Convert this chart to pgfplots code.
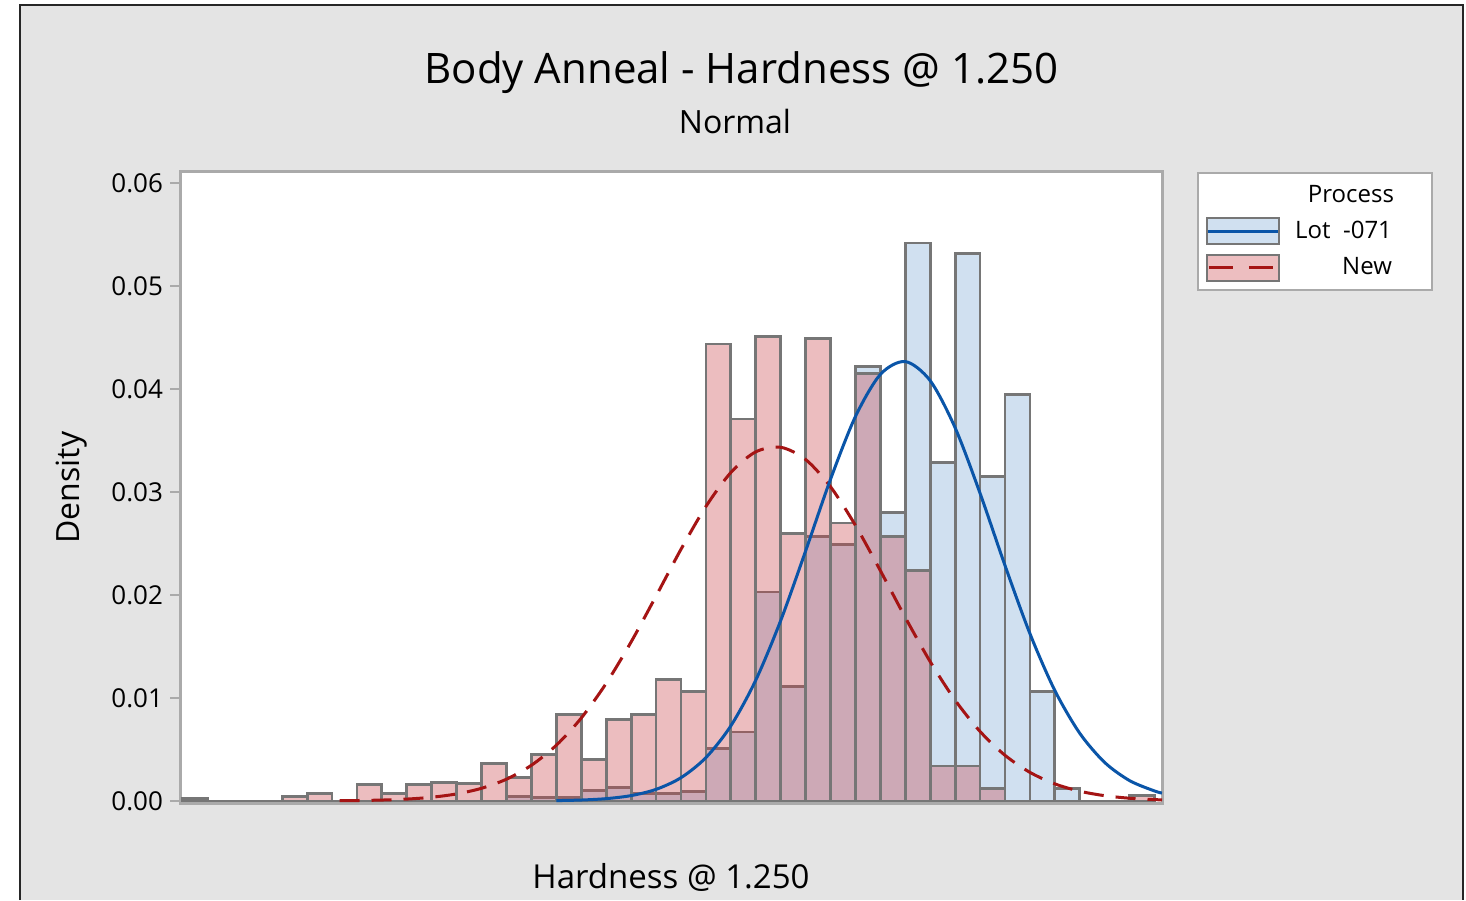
\documentclass[border=0pt]{standalone}
\usepackage{pgfplots}
\usepackage{pgfplotstable}
\pgfplotsset{compat=1.18}
\usepackage{fontspec}
\setmainfont{Open Sans}
\definecolor{bgframe}{RGB}{228,228,228}
\definecolor{bluefill}{RGB}{208,224,240}
\definecolor{pinkbase}{RGB}{202,64,70}
\definecolor{pinklegend}{RGB}{237,190,192}
\definecolor{blueline}{RGB}{10,85,168}
\definecolor{redline}{RGB}{165,20,20}
\definecolor{barline}{RGB}{118,118,118}
\definecolor{axisgray}{RGB}{170,170,170}

\pgfplotstableread{
x y
13 0.0004
14 0.0003
15 0.0003
16 0.0010
17 0.0013
18 0.0007
19 0.0007
20 0.0009
21 0.0051
22 0.0067
23 0.0203
24 0.0111
25 0.0257
26 0.0249
27 0.0422
28 0.0280
29 0.0542
30 0.0329
31 0.0532
32 0.0315
33 0.0395
34 0.0106
35 0.0012
36 0
}\bluedata

\pgfplotstableread{
x y
0 0.0002
1 0
2 0
3 0
4 0.0004
5 0.0007
6 0
7 0.0016
8 0.0007
9 0.0016
10 0.0018
11 0.0017
12 0.0036
13 0.0023
14 0.0045
15 0.0084
16 0.0040
17 0.0079
18 0.0084
19 0.0118
20 0.0106
21 0.0444
22 0.0371
23 0.0451
24 0.0260
25 0.0449
26 0.0270
27 0.0415
28 0.0257
29 0.0224
30 0.0034
31 0.0034
32 0.0012
33 0
34 0
35 0
36 0
37 0
38 0.0005
39 0
}\pinkdata

\begin{document}
\begin{tikzpicture}
\useasboundingbox (0,0) rectangle (733pt,450pt);
\fill[white] (0,0) rectangle (733pt,450pt);
\fill[bgframe] (10pt,0) rectangle (731.5pt,447.5pt);
\draw[black!85, line width=1pt] (10pt,0) -- (10pt,447.5pt) -- (731.5pt,447.5pt) -- (731.5pt,0);
\node[font=\fontsize{21}{25}\selectfont] at (370.75pt,413.5pt) {Body Anneal - Hardness @ 1.250};
\node[font=\fontsize{16}{19}\selectfont] at (367.5pt,389pt) {Normal};
\begin{axis}[
  at={(90pt,48.5pt)}, anchor=south west,
  scale only axis, width=491pt, height=315.5pt,
  xmin=-0.1, xmax=39.3, ymin=-0.0002, ymax=0.0611,
  axis background/.style={fill=white},
  axis line style={draw=axisgray, line width=1.5pt},
  xtick=\empty,
  ytick={0,0.01,0.02,0.03,0.04,0.05,0.06},
  ytick pos=left,
  scaled y ticks=false,
  tick align=outside, major tick length=5pt,
  ytick style={draw=axisgray, line width=1pt},
  yticklabel={\pgfmathprintnumber[fixed, fixed zerofill, precision=2, assume math mode=true]{\tick}},
  yticklabel style={font=\fontsize{13}{15}\selectfont},
  xlabel={Hardness @ 1.250},
  ylabel={Density},
  xlabel style={font=\fontsize{16.5}{19}\selectfont, at={(axis description cs:0.5,-0.1173)}, anchor=center},
  ylabel style={font=\fontsize{16}{19}\selectfont, at={(axis description cs:-0.11,0.5)}, anchor=center},
  legend style={at={(1.0356,1)}, anchor=north west, draw=axisgray, line width=1pt, fill=white,
    font=\fontsize{12}{14}\selectfont, inner sep=4pt, row sep=4pt},
  legend cell align=right,
]
\addlegendimage{empty legend}
\addlegendentry{\makebox[68pt][r]{Process\hspace{13pt}}}
\addlegendimage{legend image code/.code={
  \draw[draw=barline, line width=1pt, fill=bluefill] (0pt,-6.5pt) rectangle (36pt,6.5pt);
  \draw[blueline, line width=1.5pt] (0.5pt,0pt) -- (35.5pt,0pt);}}
\addlegendentry{\makebox[68pt][r]{Lot\ \ -071\hspace{14pt}}}
\addlegendimage{legend image code/.code={
  \draw[draw=barline, line width=1pt, fill=pinklegend] (0pt,-6.5pt) rectangle (36pt,6.5pt);
  \draw[redline, line width=1.5pt, dash pattern=on 12pt off 8pt] (1pt,0pt) -- (35pt,0pt);}}
\addlegendentry{\makebox[68pt][r]{New\hspace{14pt}}}

\addplot[ybar interval, fill=bluefill, draw=barline, line width=1.4pt, forget plot] table[x=x, y=y] {\bluedata};
\addplot[ybar interval, fill=pinkbase, fill opacity=0.34, draw=barline, line width=1.4pt, forget plot] table[x=x, y=y] {\pinkdata};

\addplot[redline, line width=1.5pt, smooth, dash pattern=on 10pt off 6pt, forget plot] coordinates {
(6.3,0.000024) (7,0.0000398) (8,0.000087) (9,0.000181) (10,0.00036)
(11,0.000682) (12,0.00123) (13,0.002115) (14,0.003467) (15,0.005415) (16,0.008057)
(17,0.011428) (18,0.015449) (19,0.019904) (20,0.024445) (21,0.028604) (22,0.031903)
(23,0.033912) (24,0.034356) (25,0.033172) (26,0.030523) (27,0.02677) (28,0.022374)
(29,0.017823) (30,0.01353) (31,0.00979) (32,0.00675) (33,0.004434) (34,0.002778)
(35,0.001659) (36,0.000943) (37,0.000511) (38,0.000264) (39,0.00013) (39.3,0.000104)
};
\addplot[blueline, line width=1.5pt, smooth, forget plot] coordinates {
(15,0.0000328) (16,0.0000887) (17,0.000223) (18,0.000519)
(19,0.001123) (20,0.002258) (21,0.00421) (22,0.007293) (23,0.01173) (24,0.017516)
(25,0.024279) (26,0.031252) (27,0.037345) (28,0.041436) (29,0.042684) (30,0.040825)
(31,0.036252) (32,0.02989) (33,0.022879) (34,0.01626) (35,0.01073) (36,0.006576)
(37,0.003739) (38,0.001974) (39,0.000968) (39.3,0.00077)
};
\end{axis}
\end{tikzpicture}
\end{document}
